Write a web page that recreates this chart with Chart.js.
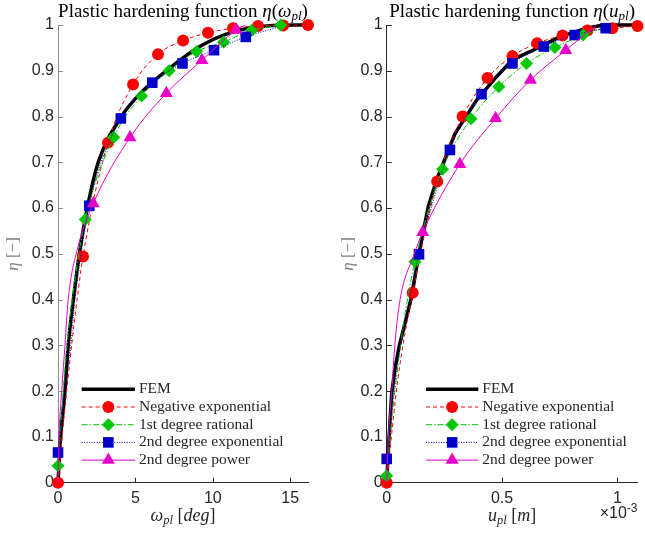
<!DOCTYPE html>
<html>
<head>
<meta charset="utf-8">
<script src="https://cdn.jsdelivr.net/npm/chart.js@4/dist/chart.umd.min.js"></script>
<style>
    body { margin: 0; background: #fff; }
    #wrap { position: relative; width: 645px; height: 534px; }
    canvas { position: absolute; top: 0; }
</style>
</head>
<body>
<div id="wrap">
    <canvas id="chartL" width="322" height="534" style="left:0"></canvas>
    <canvas id="chartR" width="323" height="534" style="left:322px"></canvas>
</div>
<script>
// ---- data ----
const legendLabels = ['FEM', 'Negative exponential', '1st degree rational', '2nd degree exponential', '2nd degree power'];
const yTicks = [0, 0.1, 0.2, 0.3, 0.4, 0.5, 0.6, 0.7, 0.8, 0.9, 1];

// left plot: omega_pl [deg]
const leftXTicks = [0, 5, 10, 15];
const leftFemX = [0, 0.08, 0.17, 0.45, 0.66, 0.99, 1.38, 1.89, 2.6, 4.1, 5.3, 7.0, 9.16, 11.3, 13.5, 16.15];
const leftFemY = [0, 0.05, 0.10, 0.20, 0.30, 0.40, 0.50, 0.60, 0.70, 0.80, 0.85, 0.90, 0.953, 0.985, 0.998, 1.0];
const leftNegExpX = [0, 1.615, 3.23, 4.85, 6.46, 8.08, 9.69, 11.31, 12.92, 14.54, 16.15];
const leftNegExpY = [0, 0.494, 0.743, 0.870, 0.936, 0.966, 0.983, 0.993, 0.998, 0.999, 1.0];
const leftNegExpLineX = [0, 0.35, 0.88, 1.615, 3.23, 4.85, 6.46, 8.08, 9.69, 11.31, 12.92, 14.54, 16.15];
const leftNegExpLineY = [0, 0.13, 0.30, 0.494, 0.743, 0.870, 0.936, 0.966, 0.983, 0.993, 0.998, 0.999, 1.0];
const leftRationalX = [0, 1.76, 3.6, 5.4, 7.18, 8.95, 10.7, 12.5, 14.39];
const leftRationalY = [0.037, 0.575, 0.755, 0.845, 0.900, 0.942, 0.963, 0.988, 1.0];
const leftRationalLineX = [0, 0.2, 0.5, 1.0, 1.76, 3.6, 5.4, 7.18, 8.95, 10.7, 12.5, 14.39];
const leftRationalLineY = [0.037, 0.13, 0.27, 0.42, 0.575, 0.755, 0.845, 0.900, 0.942, 0.963, 0.988, 1.0];
const leftExp2X = [0, 2.02, 4.06, 6.09, 8.04, 10.08, 12.13];
const leftExp2Y = [0.066, 0.605, 0.796, 0.874, 0.916, 0.945, 0.974];
const leftExp2LineX = [0, 0.3, 0.82, 1.1, 2.02, 4.06, 6.09, 8.04, 10.08, 12.13, 14.2];
const leftExp2LineY = [0.066, 0.17, 0.30, 0.40, 0.605, 0.796, 0.874, 0.916, 0.945, 0.974, 0.995];
const leftPowerX = [2.28, 4.65, 7.0, 9.3, 11.5];
const leftPowerY = [0.610, 0.754, 0.851, 0.923, 0.989];
const leftPowerLineX = [0, 0.065, 0.24, 0.45, 0.66, 1.25, 2.28, 4.65, 7.0, 9.3, 11.5, 12.1];
const leftPowerLineY = [0, 0.10, 0.20, 0.30, 0.40, 0.51, 0.610, 0.754, 0.851, 0.923, 0.989, 1.0];

// right plot: u_pl [m] x 10^-3
const rightXTicks = [0, 0.5, 1];
const rightFemX = [0, 0.007, 0.0216, 0.036, 0.055, 0.079, 0.108, 0.137, 0.18, 0.216, 0.296, 0.39, 0.476, 0.545, 0.635, 0.75, 0.866, 0.938, 1.087];
const rightFemY = [0, 0.071, 0.195, 0.25, 0.30, 0.348, 0.406, 0.494, 0.603, 0.661, 0.763, 0.836, 0.887, 0.924, 0.945, 0.974, 0.993, 1.0, 1.0];
const rightNegExpX = [0, 0.1126, 0.219, 0.329, 0.437, 0.545, 0.652, 0.762, 0.870, 0.978, 1.087];
const rightNegExpY = [0, 0.415, 0.658, 0.80, 0.884, 0.932, 0.960, 0.977, 0.988, 0.993, 0.998];
const rightNegExpLineX = [0, 0.022, 0.050, 0.1126, 0.219, 0.329, 0.437, 0.545, 0.652, 0.762, 0.870, 0.978, 1.087];
const rightNegExpLineY = [0, 0.108, 0.232, 0.415, 0.658, 0.80, 0.884, 0.932, 0.960, 0.977, 0.988, 0.993, 0.998];
const rightRationalX = [0, 0.1225, 0.242, 0.365, 0.486, 0.606, 0.729, 0.851];
const rightRationalY = [0.015, 0.483, 0.685, 0.795, 0.865, 0.916, 0.951, 0.978];
const rightRationalLineX = [0, 0.02, 0.05, 0.08, 0.1225, 0.242, 0.365, 0.486, 0.606, 0.729, 0.851, 0.93];
const rightRationalLineY = [0.015, 0.13, 0.26, 0.37, 0.483, 0.685, 0.795, 0.865, 0.916, 0.951, 0.978, 0.992];
const rightExp2X = [0, 0.140, 0.274, 0.411, 0.545, 0.681, 0.815, 0.949];
const rightExp2Y = [0.052, 0.499, 0.727, 0.849, 0.916, 0.953, 0.978, 0.993];
const rightExp2LineX = [0, 0.02, 0.05, 0.09, 0.140, 0.274, 0.411, 0.545, 0.681, 0.815, 0.949];
const rightExp2LineY = [0.052, 0.15, 0.27, 0.38, 0.499, 0.727, 0.849, 0.916, 0.953, 0.978, 0.993];
const rightPowerX = [0.156, 0.317, 0.472, 0.623, 0.776];
const rightPowerY = [0.547, 0.696, 0.796, 0.880, 0.945];
const rightPowerLineX = [0, 0.007, 0.022, 0.036, 0.058, 0.115, 0.156, 0.317, 0.472, 0.623, 0.776, 0.91];
const rightPowerLineY = [0, 0.10, 0.20, 0.305, 0.40, 0.494, 0.547, 0.696, 0.796, 0.880, 0.945, 1.0];

// ---- styles ----
const SERIF = '"Liberation Serif", "DejaVu Serif", serif';
const SANS = '"Liberation Sans", Arial, sans-serif';
const INK = '#262626';
const styles = [
    { color: '#000000', width: 3.5, dash: [], marker: null, r: 0 },
    { color: '#ff0000', width: 1, dash: [4, 3], marker: 'circle', r: 6 },
    { color: '#00c800', width: 1, dash: [6, 2, 1.5, 2], marker: 'rectRot', r: 6.5 },
    { color: '#0000c8', width: 1, dash: [1, 1.5], marker: 'rect', r: 7.5 },
    { color: '#e600c8', width: 1, dash: [], marker: 'triangle', r: 7.5 }
];

const pts = (xs, ys) => xs.map((x, i) => ({ x: x, y: ys[i] }));

// one curve dataset + one marker dataset per fit, FEM at the bottom
const buildDatasets = (fem, lines, marks, smoothFem) => {
    const sets = [{
        data: pts(fem[0], fem[1]),
        showLine: true,
        borderColor: styles[0].color,
        borderWidth: styles[0].width,
        pointRadius: 0,
        cubicInterpolationMode: smoothFem ? 'monotone' : 'default',
        tension: 0,
        clip: false,
        order: 20
    }];
    lines.forEach((ln, i) => {
        const st = styles[i + 1];
        sets.push({
            data: pts(ln[0], ln[1]),
            showLine: true,
            borderColor: st.color,
            borderWidth: st.width,
            borderDash: st.dash,
            pointRadius: 0,
            cubicInterpolationMode: 'monotone',
            clip: false,
            order: 19 - i * 2
        });
        sets.push({
            data: pts(marks[i][0], marks[i][1]),
            showLine: false,
            pointStyle: st.marker,
            pointRadius: st.r,
            pointBackgroundColor: st.color,
            pointBorderColor: st.color,
            pointBorderWidth: 0,
            clip: false,
            order: 18 - i * 2
        });
    });
    return sets;
};

// rich text: parts = [{t, italic, size, dy}]
const richWidth = (ctx, parts) => parts.reduce((w, p) => {
    ctx.font = (p.italic ? 'italic ' : '') + p.size + 'px ' + (p.family || SERIF);
    return w + ctx.measureText(p.t).width;
}, 0);
const drawRich = (ctx, parts, x, y, align) => {
    let w = richWidth(ctx, parts);
    let cx = align === 'center' ? x - w / 2 : (align === 'right' ? x - w : x);
    ctx.textBaseline = 'alphabetic';
    ctx.textAlign = 'left';
    parts.forEach(p => {
        ctx.font = (p.italic ? 'italic ' : '') + p.size + 'px ' + (p.family || SERIF);
        ctx.fillText(p.t, cx, y + (p.dy || 0));
        cx += ctx.measureText(p.t).width;
    });
};

const decorPlugin = {
    id: 'decor',
    beforeDatasetsDraw(chart, args, opts) {
        const ctx = chart.ctx, a = chart.chartArea;
        const xs = chart.scales.x, ys = chart.scales.y;
        ctx.save();
        ctx.lineWidth = 1;
        ctx.strokeStyle = opts.yAxisColor;
        yTicks.forEach(v => {
            const py = Math.round(ys.getPixelForValue(v)) + 0.5;
            ctx.beginPath(); ctx.moveTo(a.left, py); ctx.lineTo(a.left + 5, py); ctx.stroke();
        });
        ctx.strokeStyle = INK;
        opts.xTicks.forEach(v => {
            const px = Math.round(xs.getPixelForValue(v)) + 0.5;
            ctx.beginPath(); ctx.moveTo(px, a.bottom); ctx.lineTo(px, a.bottom - 5); ctx.stroke();
        });
        ctx.restore();
    },
    afterDraw(chart, args, opts) {
        const ctx = chart.ctx, a = chart.chartArea;
        const cx = (a.left + a.right) / 2;
        ctx.save();
        ctx.fillStyle = '#000';
        drawRich(ctx, opts.title, cx, 17, 'center');
        ctx.fillStyle = INK;
        drawRich(ctx, opts.xLabel, cx, 521, 'center');
        if (opts.exponent) drawRich(ctx, opts.exponent, a.right, 518, 'right');
        // y label, rotated
        ctx.save();
        ctx.translate(opts.yLabelX, 254);
        ctx.rotate(-Math.PI / 2);
        ctx.fillStyle = '#7f7f7f';
        drawRich(ctx, [{ t: 'η', italic: true, size: 17 }, { t: ' [−]', size: 17 }], 0, 5, 'center');
        ctx.restore();
        // legend
        const lg = opts.legend;
        legendLabels.forEach((label, i) => {
            const st = styles[i];
            const y = lg.top + i * 17.7;
            ctx.save();
            ctx.strokeStyle = st.color;
            ctx.lineWidth = st.width;
            ctx.setLineDash(st.dash);
            ctx.beginPath(); ctx.moveTo(lg.x0, y); ctx.lineTo(lg.x1, y); ctx.stroke();
            ctx.setLineDash([]);
            if (st.marker) {
                ctx.fillStyle = st.color;
                Chart.helpers.drawPoint(ctx, { pointStyle: st.marker, radius: st.r, rotation: 0, borderWidth: 0 },
                    (lg.x0 + lg.x1) / 2, y);
            }
            ctx.restore();
            ctx.fillStyle = INK;
            ctx.font = '15.5px ' + SERIF;
            ctx.textBaseline = 'middle';
            ctx.textAlign = 'left';
            ctx.fillText(label, lg.x1 + 4, y);
        });
        ctx.restore();
    }
};

const makeChart = (id, cfg) => new Chart(document.getElementById(id), {
    type: 'scatter',
    data: { datasets: cfg.datasets },
    options: {
        responsive: false,
        animation: false,
        events: [],
        layout: { padding: { top: 25, right: cfg.padRight, bottom: 0, left: 0 } },
        scales: {
            x: {
                type: 'linear', min: 0, max: cfg.xMax,
                afterBuildTicks: s => { s.ticks = cfg.xTicks.map(v => ({ value: v })); },
                afterFit: s => { s.height = 534 - 482.7; },
                grid: { display: false, drawTicks: false },
                border: { color: INK, width: 1 },
                ticks: { color: INK, font: { family: SANS, size: 16 }, padding: 6, maxRotation: 0, autoSkip: false,
                    callback: v => String(v) }
            },
            y: {
                type: 'linear', min: 0, max: 1,
                afterBuildTicks: s => { s.ticks = yTicks.map(v => ({ value: v })); },
                afterFit: s => { s.width = cfg.yWidth; },
                grid: { display: false, drawTicks: false },
                border: { color: cfg.yAxisColor, width: 1 },
                ticks: { color: INK, font: { family: SANS, size: 16 }, padding: 4, autoSkip: false,
                    callback: v => String(Number(v.toFixed(1))) }
            }
        },
        plugins: {
            legend: { display: false },
            tooltip: { enabled: false },
            decor: {
                xTicks: cfg.xTicks,
                yAxisColor: cfg.yAxisColor,
                title: cfg.title,
                xLabel: cfg.xLabel,
                exponent: cfg.exponent,
                yLabelX: cfg.yLabelX,
                legend: cfg.legend
            }
        }
    },
    plugins: [decorPlugin]
});

const titleStart = [{ t: 'Plastic hardening function ', size: 19 }, { t: 'η', italic: true, size: 19 }, { t: '(', size: 19 }];

makeChart('chartL', {
    datasets: buildDatasets([leftFemX, leftFemY],
        [[leftNegExpLineX, leftNegExpLineY], [leftRationalLineX, leftRationalLineY], [leftExp2LineX, leftExp2LineY], [leftPowerLineX, leftPowerLineY]],
        [[leftNegExpX, leftNegExpY], [leftRationalX, leftRationalY], [leftExp2X, leftExp2Y], [leftPowerX, leftPowerY]], true),
    xMax: leftNegExpX[leftNegExpX.length - 1],
    xTicks: leftXTicks,
    padRight: 14,
    yWidth: 58,
    yAxisColor: '#8c8c8c',
    yLabelX: 13,
    title: titleStart.concat([{ t: 'ω', italic: true, size: 19 }, { t: 'pl', italic: true, size: 13, dy: 3 }, { t: ')', size: 19 }]),
    xLabel: [{ t: 'ω', italic: true, size: 18 }, { t: 'pl', italic: true, size: 12.5, dy: 3 }, { t: ' [', size: 18 }, { t: 'deg', italic: true, size: 18 }, { t: ']', size: 18 }],
    legend: { x0: 81.7, x1: 135, top: 389.3 }
});

makeChart('chartR', {
    datasets: buildDatasets([rightFemX, rightFemY],
        [[rightNegExpLineX, rightNegExpLineY], [rightRationalLineX, rightRationalLineY], [rightExp2LineX, rightExp2LineY], [rightPowerLineX, rightPowerLineY]],
        [[rightNegExpX, rightNegExpY], [rightRationalX, rightRationalY], [rightExp2X, rightExp2Y], [rightPowerX, rightPowerY]], false),
    xMax: rightNegExpX[rightNegExpX.length - 1],
    xTicks: rightXTicks,
    padRight: 7,
    yWidth: 64.7,
    yAxisColor: INK,
    yLabelX: 26,
    title: titleStart.concat([{ t: 'u', italic: true, size: 19 }, { t: 'pl', italic: true, size: 13, dy: 3 }, { t: ')', size: 19 }]),
    xLabel: [{ t: 'u', italic: true, size: 18 }, { t: 'pl', italic: true, size: 12.5, dy: 3 }, { t: ' [', size: 18 }, { t: 'm', italic: true, size: 18 }, { t: ']', size: 18 }],
    exponent: [{ t: '×10', size: 16, family: SANS }, { t: '-3', size: 12, family: SANS, dy: -6 }],
    legend: { x0: 104, x1: 156.3, top: 389.3 }
});
</script>
</body>
</html>
